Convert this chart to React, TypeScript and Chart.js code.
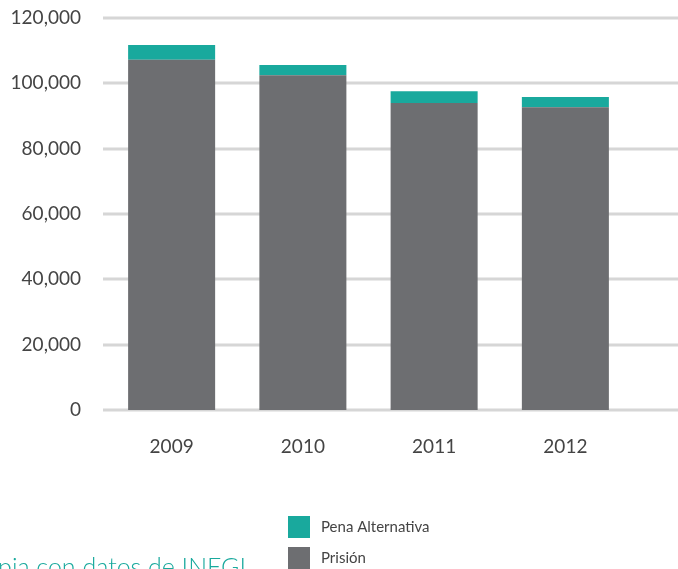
import React, { useEffect, useRef } from "react";
import { Chart, registerables } from "chart.js";

Chart.register(...registerables);

const years = ["2009", "2010", "2011", "2012"];
const prision = [107200, 102500, 94000, 92700];
const penaAlternativa = [4500, 3100, 3600, 3100];
const yTicks = [0, 20000, 40000, 60000, 80000, 100000, 120000];
const sourceText = "Elaboración propia con datos de INEGI";

const TEAL = "#19a99d";
const GRAY = "#6d6e71";
const FONT = "Lato, 'Open Sans', sans-serif";

const gridPlugin = {
  id: "customGrid",
  beforeDatasetsDraw(chart: any) {
    const ctx = chart.ctx;
    const y = chart.scales.y;
    ctx.save();
    ctx.strokeStyle = "#d6d6d6";
    ctx.lineWidth = 3;
    yTicks.forEach((v) => {
      const py = Math.round(y.getPixelForValue(v));
      ctx.beginPath();
      ctx.moveTo(103, py);
      ctx.lineTo(chart.width, py);
      ctx.stroke();
    });
    ctx.restore();
  },
  afterDraw(chart: any) {
    const ctx = chart.ctx;
    ctx.save();
    const ds = chart.data.datasets.slice().reverse();
    ds.forEach((d: any, i: number) => {
      const by = 516 + i * 31;
      ctx.fillStyle = d.backgroundColor;
      ctx.fillRect(288, by, 22, 22);
      ctx.fillStyle = "#444";
      ctx.font = `15px ${FONT}`;
      ctx.textAlign = "left";
      ctx.textBaseline = "middle";
      ctx.fillText(d.label, 321, by + 11);
    });
    ctx.fillStyle = TEAL;
    ctx.font = `300 25px ${FONT}`;
    ctx.textAlign = "right";
    ctx.textBaseline = "alphabetic";
    ctx.fillText(sourceText, 246, 576);
    ctx.restore();
  },
};

export default function App() {
  const ref = useRef<HTMLCanvasElement>(null);
  useEffect(() => {
    const chart = new Chart(ref.current!, {
      type: "bar",
      data: {
        labels: years,
        datasets: [
          { label: "Prisión", data: prision, backgroundColor: GRAY, borderWidth: 0 },
          { label: "Pena Alternativa", data: penaAlternativa, backgroundColor: TEAL, borderWidth: 0 },
        ],
      },
      options: {
        responsive: false,
        animation: false,
        layout: { padding: { left: 0, right: 47, top: 18, bottom: 0 } },
        plugins: { legend: { display: false }, tooltip: { enabled: false } },
        scales: {
          x: {
            stacked: true,
            grid: { display: false },
            border: { display: false },
            ticks: { color: "#444", font: { family: FONT, size: 19, weight: 400 }, padding: 17 },
            afterFit: (s: any) => { s.height = 159; s.paddingTop = 0; },
          },
          y: {
            stacked: true,
            min: 0,
            max: 120000,
            grid: { display: false, drawTicks: false },
            border: { display: false },
            ticks: {
              stepSize: 20000,
              padding: 25,
              color: "#444",
              font: { family: FONT, size: 19, weight: 400 },
              callback: (v: any) => Number(v).toLocaleString("en-US"),
            },
            afterFit: (s: any) => { s.width = 106; s.paddingTop = 0; s.paddingBottom = 0; },
          },
        },
        datasets: { bar: { categoryPercentage: 1, barPercentage: 0.663 } },
      } as any,
      plugins: [gridPlugin],
    });
    return () => chart.destroy();
  }, []);
  return (
    <div style={{ position: "fixed", left: 0, top: 0, width: 678, height: 569, background: "#fff" }}>
      <canvas ref={ref} width={678} height={569} style={{ width: 678, height: 569, display: "block" }} />
    </div>
  );
}
